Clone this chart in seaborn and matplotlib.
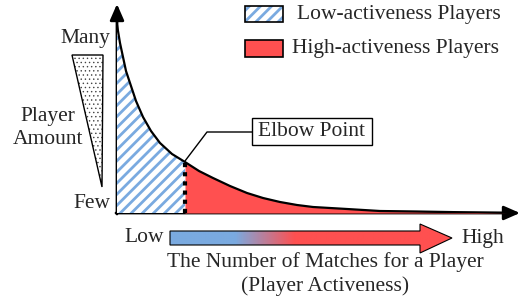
import numpy as np
import matplotlib
matplotlib.use("Agg")
import matplotlib.pyplot as plt
import seaborn as sns
from matplotlib.patches import Polygon, Rectangle

# curve: matches (x offset) vs player amount (height), in px units
matches = [0, 3, 6, 9, 13, 19, 26, 34, 43, 55, 68, 82, 96, 113, 130, 146, 163, 180, 196, 230, 263, 300, 330, 360, 390]
players = [188, 170, 156, 142, 130, 112, 96, 82, 70, 59, 51, 42, 35, 27, 20, 15, 11, 8, 6, 4, 2, 1.5, 1, 0.5, 0]
elbow = 68

legend_labels = ["Low-activeness Players", "High-activeness Players"]
y_labels = ["Many", "Player\nAmount", "Few"]
x_labels = ["Low", "High"]
x_title = "The Number of Matches for a Player\n(Player Activeness)"
elbow_label = "Elbow Point"

blue = "#7aaae0"
red = "#ff5050"
fs = 15.5

sns.set_theme(style="white")
plt.rcParams["font.family"] = ["Liberation Serif", "DejaVu Serif"]
plt.rcParams["hatch.linewidth"] = 2.0

W, H = 523, 305
fig = plt.figure(figsize=(W / 100, H / 100), dpi=100)

# overlay axes in pixel coords
ov = fig.add_axes([0, 0, 1, 1])
ov.set_xlim(0, W)
ov.set_ylim(H, 0)
ov.axis("off")

x0, y0 = 117, 213
ax = fig.add_axes([x0 / W, (H - y0) / H, (518 - x0) / W, (y0 - 5) / H])
ax.set_xlim(0, 518 - x0)
ax.set_ylim(0, y0 - 5)
ax.axis("off")

mx = np.array(matches, dtype=float)
py = np.array(players, dtype=float)
low = mx <= elbow
high = mx >= elbow
ax.fill_between(mx[low], 0, py[low], facecolor="white", edgecolor=blue,
                hatch="///", linewidth=0)
ax.fill_between(mx[high], 0, py[high], color=red, linewidth=0)
sns.lineplot(x=mx, y=py, color="black", linewidth=1.6, ax=ax, sort=False)
ax.plot([elbow, elbow], [0, np.interp(elbow, mx, py)], color="black",
        linewidth=3, linestyle=(0, (1, 1.2)))

# axes with arrowheads
ov.annotate("", xy=(x0, 4), xytext=(x0, y0 + 1),
            arrowprops=dict(arrowstyle="-|>,head_length=0.8,head_width=0.35",
                            color="black", lw=2, shrinkA=0, shrinkB=0))
ov.annotate("", xy=(520, y0), xytext=(x0 - 1, y0),
            arrowprops=dict(arrowstyle="-|>,head_length=0.8,head_width=0.35",
                            color="black", lw=2, shrinkA=0, shrinkB=0))

# legend
ov.add_patch(Rectangle((245, 6), 38, 16, facecolor="white", edgecolor=blue,
                       hatch="///", linewidth=0))
ov.add_patch(Rectangle((245, 6), 38, 16, fill=False, edgecolor="black", linewidth=1.2))
ov.add_patch(Rectangle((245, 40), 38, 17, facecolor=red, edgecolor="black", linewidth=1.2))
ov.text(297, 14, legend_labels[0], fontsize=fs, va="center", ha="left")
ov.text(292, 49, legend_labels[1], fontsize=fs, va="center", ha="left")

# elbow annotation
ov.plot([x0 + elbow, 207, 252], [161, 132, 132], color="black", linewidth=1)
ov.add_patch(Rectangle((252, 118), 120, 27, facecolor="white", edgecolor="black", linewidth=1))
ov.text(312, 132, elbow_label, fontsize=fs, ha="center", va="center")

# player amount triangle
tri = [(72, 55), (103, 55), (102, 187)]
with plt.rc_context({"hatch.linewidth": 0.5}):
    dots = Polygon(tri, closed=True, facecolor="white", edgecolor="#444444",
                   hatch="....", linewidth=0)
if hasattr(dots, "set_hatch_linewidth"):
    dots.set_hatch_linewidth(0.5)
ov.add_patch(dots)
ov.add_patch(Polygon(tri, closed=True, fill=False, edgecolor="black", linewidth=1))
ov.text(110, 38, y_labels[0], fontsize=fs, ha="right", va="center")
ov.text(48, 128, y_labels[1], fontsize=fs, ha="center", va="center", linespacing=1.25)
ov.text(110, 203, y_labels[2], fontsize=fs, ha="right", va="center")

# gradient arrow
arrow = Polygon([(170, 231), (420, 231), (420, 224), (452, 238), (420, 253),
                 (420, 245), (170, 245)], closed=True, facecolor="none",
                edgecolor="black", linewidth=0.8)
grad = np.zeros((1, 300, 3))
cols = np.linspace(170, 452, 300)
t = np.clip((cols - 235) / (295 - 235), 0, 1)
b = np.array(matplotlib.colors.to_rgb(blue))
r = np.array(matplotlib.colors.to_rgb(red))
grad[0] = (1 - t)[:, None] * b + t[:, None] * r
im = ov.imshow(grad, extent=(170, 452, 253, 224), aspect="auto", zorder=1)
ov.add_patch(arrow)
im.set_clip_path(arrow)
ov.set_xlim(0, W)
ov.set_ylim(H, 0)
ov.text(144, 238, x_labels[0], fontsize=fs, ha="center", va="center")
ov.text(483, 238, x_labels[1], fontsize=fs, ha="center", va="center")
ov.text(325, 274, x_title, fontsize=fs, ha="center", va="center", linespacing=1.3)

fig.savefig("out.png", dpi=100)
